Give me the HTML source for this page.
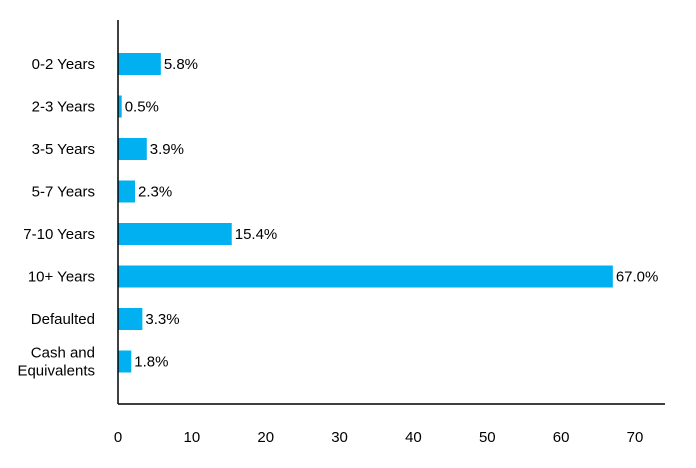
<!DOCTYPE html>
<html><head><meta charset="utf-8"><style>
html,body{margin:0;padding:0;background:#fff;}
svg{display:block;font-family:"Liberation Sans",sans-serif;}
</style></head><body>
<svg id="chart" width="696" height="468" viewBox="0 0 696 468" xmlns="http://www.w3.org/2000/svg"></svg>
<script>
const categories = ["0-2 Years","2-3 Years","3-5 Years","5-7 Years","7-10 Years","10+ Years","Defaulted","Cash and|Equivalents"];
const values = [5.8,0.5,3.9,2.3,15.4,67.0,3.3,1.8];
const valueLabels = ["5.8%","0.5%","3.9%","2.3%","15.4%","67.0%","3.3%","1.8%"];
const xTicks = [0,10,20,30,40,50,60,70];

const svg = document.getElementById('chart');
const NS = 'http://www.w3.org/2000/svg';
const x0 = 118, xMaxPx = 635, xMax = 70;
const yTop = 20, yBot = 404;
const firstCenter = 64, step = 42.5, barH = 22;
const xs = v => x0 + (v / xMax) * (xMaxPx - x0);
const yc = i => firstCenter + i * step;
function mk(tag, attrs){const e=document.createElementNS(NS,tag);for(const k in attrs)e.setAttribute(k,attrs[k]);svg.appendChild(e);return e;}

categories.forEach((c,i)=>{
  const r = mk('rect',{x:x0,y:yc(i)-barH/2,width:xs(values[i])-x0,height:barH,fill:'#00B0F0'});
  
  
  const t = mk('text',{x:xs(values[i])+3,y:yc(i)+5,'font-size':15,fill:'#000'});
  t.textContent = valueLabels[i];
  
  
  const parts = c.split('|');
  const lt = mk('text',{x:95,y:yc(i)+5-(parts.length-1)*9,'font-size':15,'text-anchor':'end',fill:'#000'});
  
  
  parts.forEach((p,j)=>{const ts=document.createElementNS(NS,'tspan');ts.setAttribute('x',95);if(j>0)ts.setAttribute('dy',18);ts.textContent=p;lt.appendChild(ts);});
});

const ya = mk('line',{x1:x0,y1:yTop,x2:x0,y2:yBot,stroke:'#000','stroke-width':1.5});


const xa = mk('line',{x1:x0,y1:yBot,x2:665,y2:yBot,stroke:'#000','stroke-width':1.5});



xTicks.forEach(v=>{
  const t = mk('text',{x:xs(v),y:442,'font-size':15,'text-anchor':'middle',fill:'#000'});
  t.textContent = v;
  
  
});
</script>
</body></html>
